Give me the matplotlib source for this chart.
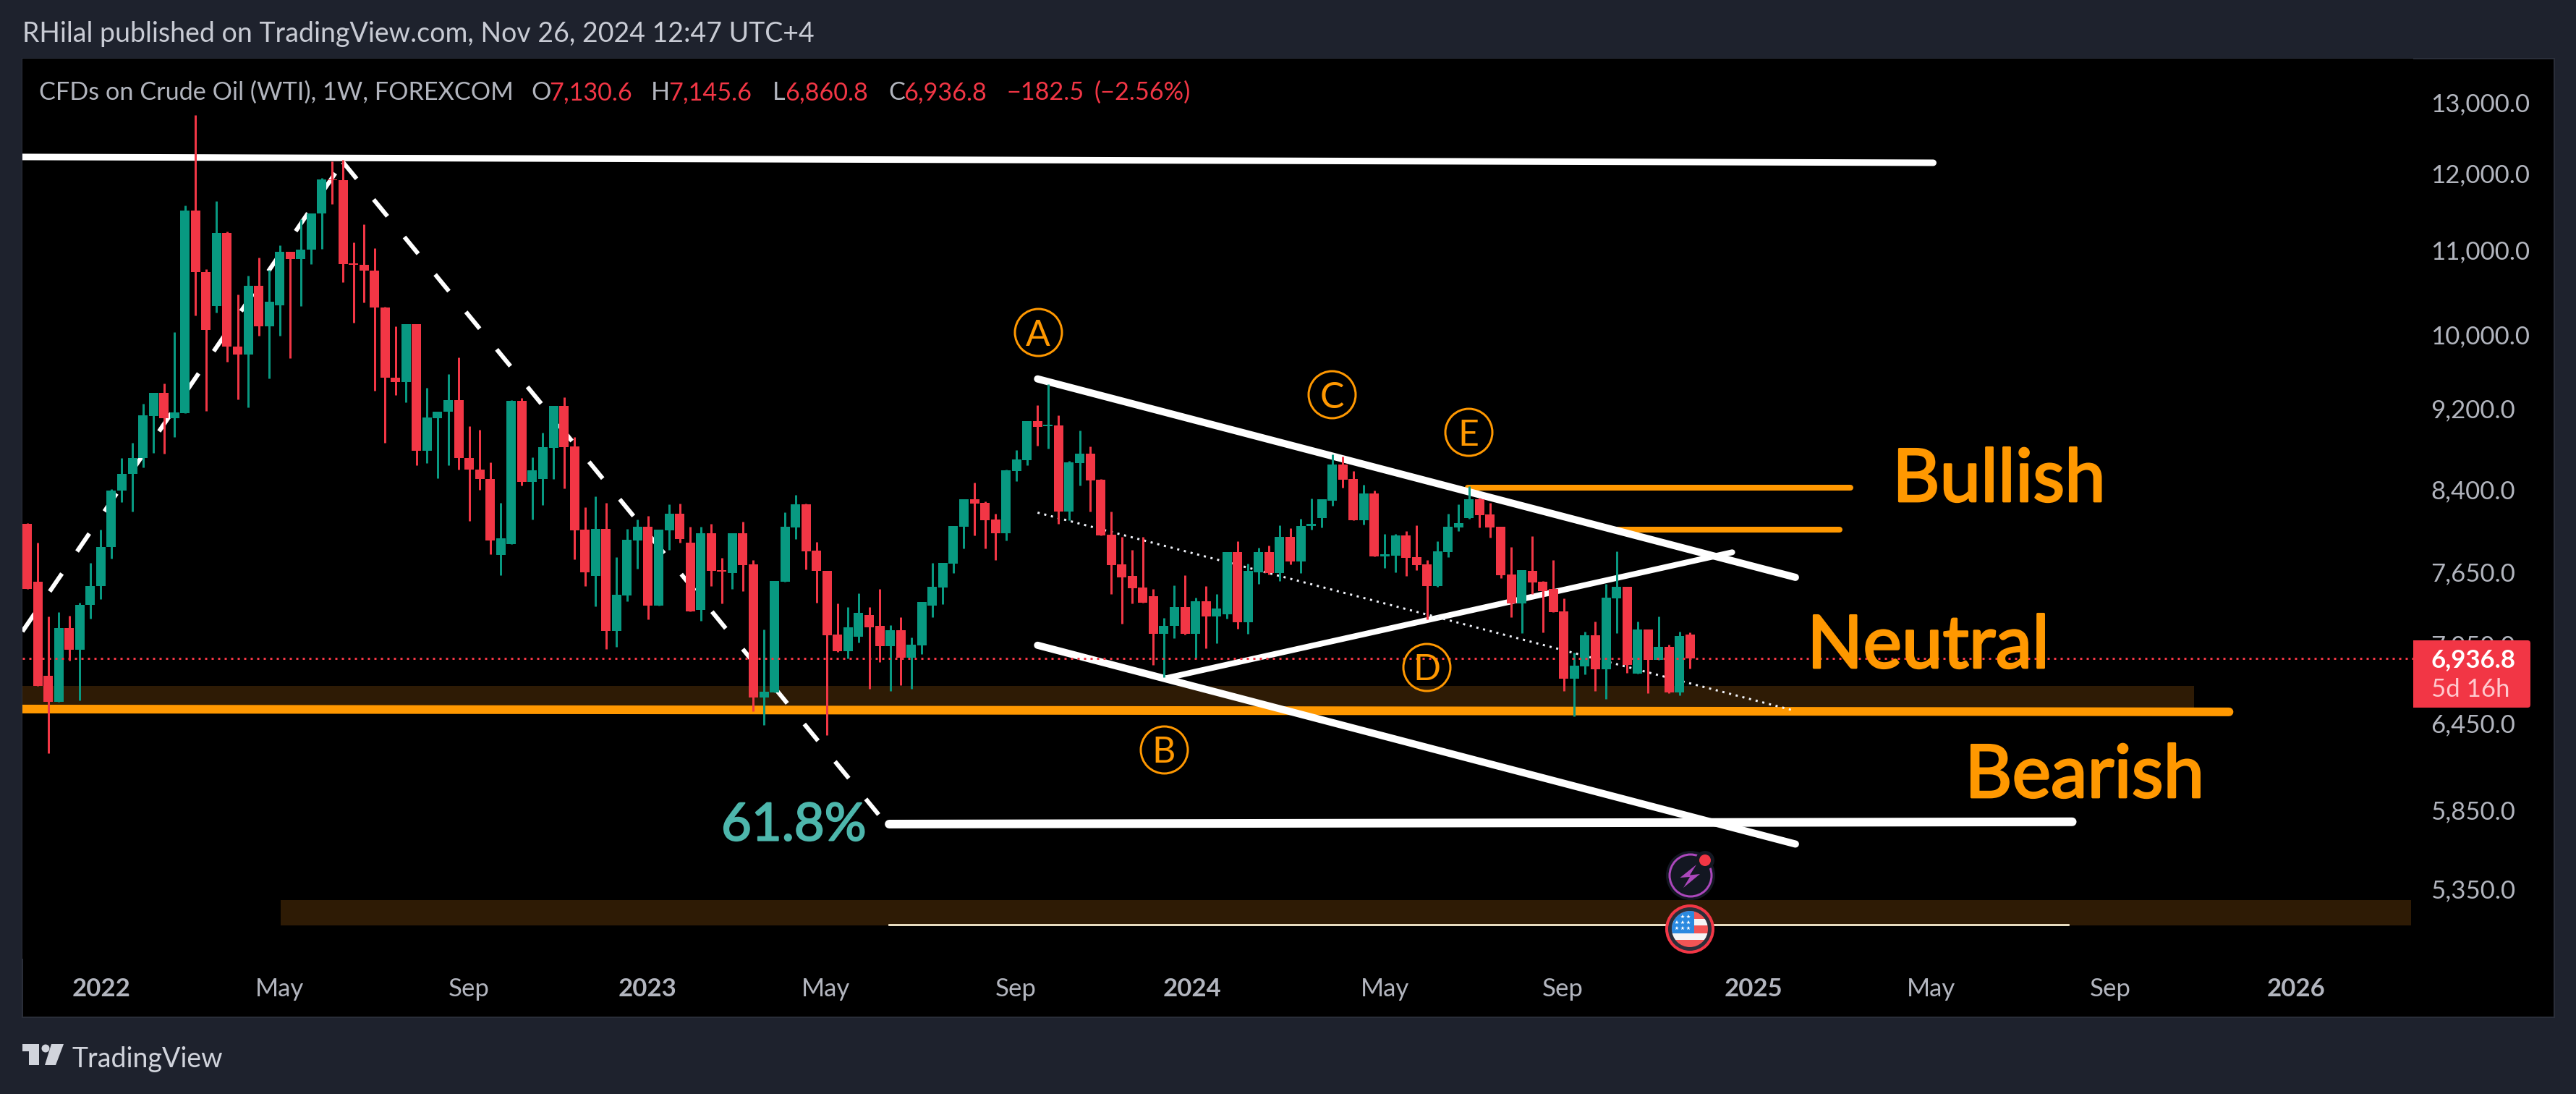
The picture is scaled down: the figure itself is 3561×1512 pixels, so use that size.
import numpy as np
import matplotlib
matplotlib.use("Agg")
import matplotlib.pyplot as plt
import matplotlib.patheffects as pe
from matplotlib.patches import Rectangle, Circle, Polygon, FancyBboxPatch
from matplotlib.ticker import NullLocator, NullFormatter

plt.rcParams['font.family'] = ['Lato', 'DejaVu Sans']
plt.rcParams['lines.scale_dashes'] = False

# --- weekly candles ---
opens = [8080,7567,6805,6606,7183,7006,7369,7528,7868,8385,8543,8700,9121,9362,9098,9155,11505,10730,10325,11216,
         9867,9776,10565,10091,10335,10977,10888,11010,11463,11917,11899,10838,10820,10748,10309,9525,9476,10117,8768,9103,
         9165,9290,8700,8587,8499,7798,7892,9281,8469,8498,8801,9229,8815,8026,7616,8031,7160,7452,7929,8051,
         7366,8018,8171,7910,7331,7994,7667,7643,7994,7717,6640,6680,7568,8046,8257,7838,7662,7131,6998,7113,
         7288,7196,7038,7164,6946,7044,7366,7519,7725,8051,8304,8270,8117,7994,8573,8682,9072,9016,9027,8191,
         8652,8744,8490,7979,7717,7616,7519,7445,7135,7196,7354,7135,7403,7276,7294,7826,7229,7650,7826,7643,
         7962,7743,8059,8132,8291,8639,8498,8112,8359,7787,7794,7974,7780,7717,7531,7826,8046,8133,8305,8164,
         8051,7629,7384,7661,7567,7505,7318,6785,6878,7123,6856,7426,7524,6822,7170,6928,7030,6678,7130.6]
highs = [8085,7906,7274,7312,7281,7388,7730,8025,8402,8700,8850,9252,9362,9466,10028,11565,12807,10770,11623,11233,
         10465,10686,10910,10758,11058,10977,11392,11463,11929,12163,12176,11100,11327,11022,10320,10096,10117,10117,9417,9170,
         9564,9746,9018,8981,8660,8272,9287,9310,8709,8954,9229,9320,8909,8232,8332,8270,7780,8031,8117,8148,
         8026,8257,8265,8051,8051,8079,7775,7994,8096,7756,7171,7573,8183,8345,8265,7915,7662,7385,7354,7470,
         7354,7505,7207,7270,7106,7396,7730,7730,8059,8304,8464,8286,8171,8589,8780,9072,9235,9458,9128,8671,
         8977,8815,8498,8191,7962,7845,7962,7505,7265,7535,7623,7433,7531,7464,7826,7922,7725,7862,7882,8064,
         8038,8125,8312,8304,8733,8717,8573,8443,8387,7986,7986,8011,8064,7756,7922,8171,8257,8428,8319,8273,
         8051,7869,7667,7966,7573,7754,7426,6985,7152,7234,7549,7831,7524,7234,7170,7276,7047,7152,7145.6]
lows = [7505,6727,6236,6606,6920,6616,7259,7419,7766,8276,8190,8605,8750,8745,8905,9155,10218,9175,10250,9695,
        9295,9208,9987,9515,9987,9736,10325,10826,11015,11583,10608,10138,10367,9387,8850,9338,9261,8628,8650,8504,
        8628,8587,8105,8393,7802,7623,7892,8435,8118,8252,8498,8408,7762,7531,7361,7016,7031,7403,7681,7254,
        7366,7845,7910,7317,7240,7531,7385,7505,7489,6540,6438,6680,7568,7942,7674,7392,6366,6991,6937,7066,
        6707,6911,6690,6734,6707,6974,7270,7380,7643,7857,7974,7857,7756,7929,8477,8630,8823,8793,8074,8109,
        8435,8191,7974,7464,7218,7385,7392,6889,6791,7101,7131,6937,7020,7059,7258,7178,7135,7549,7631,7573,
        7717,7643,8026,8046,8245,8414,8112,8071,7787,7686,7650,7616,7667,7254,7526,7780,8011,8126,8045,7953,
        7598,7270,7140,7465,7146,7312,6690,6498,6816,6690,6630,7140,6828,6822,6673,6928,6673,6657,6860.8]
closes = [7505,6727,6606,7183,7006,7373,7532,7868,8389,8548,8700,9131,9362,9098,9159,11505,10730,10049,11216,9862,
          9776,10565,10091,10378,10977,10894,11010,11463,11910,11899,10826,10820,10748,10309,9525,9476,10117,8768,9108,9170,
          9290,8700,8587,8494,7926,7946,9281,8469,8581,8809,9229,8809,8021,7650,8031,7160,7459,7934,8051,7366,
          8026,8171,7942,7317,7994,7657,7652,7994,7712,6640,6684,7573,8051,8257,7830,7657,7124,6998,7189,7306,
          7189,7038,7164,6946,7049,7396,7524,7730,8059,8304,8265,8112,7994,8581,8687,9072,9013,9033,8191,8660,
          8744,8482,7974,7712,7604,7512,7392,7135,7200,7354,7135,7403,7276,7343,7826,7229,7657,7826,7638,7962,
          7743,8059,8079,8301,8639,8490,8112,8359,7787,7806,7974,7775,7712,7531,7830,8051,8084,8305,8157,8045,
          7623,7384,7663,7561,7485,7312,6785,6883,7123,6856,7432,7524,6889,7170,6928,7030,6678,7119,6936.8]

price_ticks = [13000, 12000, 11000, 10000, 9200, 8400, 7650, 7050, 6450, 5850, 5350]
price_labels = ["13,000.0", "12,000.0", "11,000.0", "10,000.0", "9,200.0", "8,400.0", "7,650.0",
                "7,050.0", "6,450.0", "5,850.0", "5,350.0"]
date_ticks = [7.05, 24, 42, 58.9, 75.9, 93.9, 110.7, 129, 145.9, 164, 180.9, 197.9, 215.6]
date_labels = ["2022", "May", "Sep", "2023", "May", "Sep", "2024", "May", "Sep", "2025", "May", "Sep", "2026"]

# drawings, as (bar index, price) pairs
top_line_x, top_line_y = [-0.45, 181.1], [12219, 12139]
rise_dash_x, rise_dash_y = [-0.45, 30], [7153, 12149]
fall_dash_x, fall_dash_y = [30, 80.9], [12149, 5818]
upper_x, upper_y = [96, 168], [9512, 7604]
lower_x, lower_y = [96, 168], [7043, 5628]
rising_x, rising_y = [108.2, 162], [6786, 7822]
dotted_x, dotted_y = [96, 167.9], [8180, 6542]
support_x, support_y = [-0.45, 209.2], [6554, 6533]
bull1_x, bull1_y = [136.9, 173.2], [8414, 8414]
bull2_x, bull2_y = [150.9, 172.2], [8027, 8027]
fib_x, fib_y = [81.9, 194.3], [5756, 5771]
fib_thin_x, fib_thin_y = [81.9, 193.9], [5139, 5139]
zone1_x, zone1_y = [-0.45, 205.9], [6554, 6725]
zone2_x, zone2_y = [24.1, 226.5], [5136, 5284]

W, H = 3561, 1512
PX = 0.72  # one pixel in points at dpi 100
BG = "#1e222d"
RED, GREEN = "#f23645", "#089981"
ORANGE = "#ff9800"
GREY = "#b2b5be"
ZONE = "#2e1b05"


def rect(x0, y0, x1, y1):
    return [x0 / W, 1 - y1 / H, (x1 - x0) / W, (y1 - y0) / H]


fig = plt.figure(figsize=(W / 100, H / 100), dpi=100, facecolor=BG)

panel = fig.add_axes(rect(31, 81, 3531, 1406), facecolor="black")
panel.set_xticks([])
panel.set_yticks([])
for s in panel.spines.values():
    s.set_color("#2a2e39")
    s.set_linewidth(2 * PX)

ax = fig.add_axes(rect(31, 81, 3336, 1325), facecolor="black")
for s in ax.spines.values():
    s.set_visible(False)
ax.set_yscale("log")
ax.set_xlim(-0.447, 226.7)
ax.set_ylim(4945, 13653)

# zones and drawings sit under the candles
ax.fill_between(zone1_x, zone1_y[0], zone1_y[1], color=ZONE, lw=0, zorder=1)
ax.fill_between(zone2_x, zone2_y[0], zone2_y[1], color=ZONE, lw=0, zorder=1)

ax.plot(support_x, support_y, color=ORANGE, lw=12 * PX, solid_capstyle="round", zorder=2)
ax.plot(bull1_x, bull1_y, color=ORANGE, lw=8 * PX, solid_capstyle="round", zorder=2)
ax.plot(bull2_x, bull2_y, color=ORANGE, lw=8 * PX, solid_capstyle="round", zorder=2)

for xs, ys, w in [(top_line_x, top_line_y, 9), (upper_x, upper_y, 10), (lower_x, lower_y, 10),
                  (rising_x, rising_y, 8), (fib_x, fib_y, 12)]:
    ax.plot(xs, ys, color="white", lw=w * PX, solid_capstyle="round", zorder=3)
ax.plot(fib_thin_x, fib_thin_y, color="#fff3d6", lw=2.7 * PX, zorder=3)

dash = (0, (30 * PX, 37 * PX))
ax.plot(rise_dash_x, rise_dash_y, color="white", lw=6 * PX, ls=dash, dash_capstyle="butt", zorder=3)
ax.plot(fall_dash_x, fall_dash_y, color="white", lw=6 * PX, ls=dash, dash_capstyle="butt", zorder=3)
ax.plot(dotted_x, dotted_y, color="#f0f3fa", lw=3 * PX, ls=(0, (3 * PX, 6.5 * PX)), dash_capstyle="butt", zorder=3)

# candles
idx = np.arange(len(opens))
o, h, l, c = map(np.array, (opens, highs, lows, closes))
colors = [GREEN if b > a else RED for a, b in zip(o, c)]
ax.vlines(idx, l, h, colors=colors, lw=3 * PX, zorder=4)
ax.bar(idx, np.abs(c - o), bottom=np.minimum(o, c), width=13 / 14.55, color=colors, lw=0, zorder=5)

# last price line
ax.axhline(closes[-1], color=RED, lw=3 * PX, ls=(0, (3 * PX, 6 * PX)), dash_capstyle="butt", zorder=6)

ax.yaxis.tick_right()
ax.set_yticks(price_ticks, labels=price_labels)
ax.yaxis.set_minor_locator(NullLocator())
ax.yaxis.set_minor_formatter(NullFormatter())
ax.set_xticks(date_ticks, labels=date_labels)
ax.tick_params(axis="y", length=0, pad=24 * PX, labelsize=25, labelcolor=GREY)
ax.tick_params(axis="x", length=0, pad=26 * PX, labelsize=25, labelcolor=GREY)
for t in ax.get_xticklabels():
    if t.get_text().isdigit():
        t.set_fontweight("bold")

# --- overlay in image pixels for texts and icons ---
ov = fig.add_axes([0, 0, 1, 1], facecolor="none")
ov.set_xlim(0, W)
ov.set_ylim(H, 0)
ov.axis("off")

ov.text(31, 47, "RHilal published on TradingView.com, Nov 26, 2024 12:47 UTC+4", color="#c8cbd4",
        fontsize=27, va="center")

legend_parts = [(54, "CFDs on Crude Oil (WTI), 1W, FOREXCOM", GREY), (734, "O", GREY), (759, "7,130.6", RED),
                (900, "H", GREY), (924, "7,145.6", RED), (1068, "L", GREY), (1085, "6,860.8", RED),
                (1228, "C", GREY), (1249, "6,936.8", RED), (1391, "\u2212182.5", RED), (1513, "(\u22122.56%)", RED)]
for x, s, col in legend_parts:
    ov.text(x, 128, s, color=col, fontsize=24.7, va="center")

for x, y, s in [(1435, 459, "A"), (1609, 1036, "B"), (1841, 545, "C"), (1972, 922, "D"), (2030, 597, "E")]:
    ov.plot([x], [y], "o", ms=65 * PX, mfc="none", mec=ORANGE, mew=3 * PX)
    ov.text(x, y, s, color=ORANGE, fontsize=36, ha="center", va="center_baseline")

# a thin stroke thickens the big labels to the reference's weight
bold_orange = [pe.withStroke(linewidth=2, foreground=ORANGE)]
for x, y, s in [(2616, 656, "Bullish"), (2498, 886, "Neutral"), (2716, 1065, "Bearish")]:
    ov.text(x, y, s, color=ORANGE, fontsize=73, va="center_baseline", path_effects=bold_orange)
ov.text(997, 1135, "61.8%", color="#4db6ac", fontsize=52, va="center_baseline",
        path_effects=[pe.withStroke(linewidth=1.5, foreground="#4db6ac")])

# last price badge
ov.add_patch(FancyBboxPatch((3340, 889), 154, 85, boxstyle="round,pad=4", fc=RED, ec="none"))
ov.add_patch(Rectangle((3336, 885), 20, 93, fc=RED, ec="none"))
ov.text(3360, 909, "6,936.8", color="white", fontsize=25, va="center_baseline", fontweight="bold")
ov.text(3361, 950, "5d 16h", color="#ffc9ce", fontsize=25, va="center_baseline")

# earnings style icon
ov.add_patch(Circle((2337, 1210), 34, fc="#131722", ec="none"))
ov.add_patch(Circle((2337, 1210), 29, fc="none", ec="#ab47bc", lw=3 * PX))
ov.add_patch(Polygon([(2345, 1195), (2322.5, 1213), (2336, 1212), (2327, 1227), (2350, 1208), (2336, 1209.5)],
                     fc="#ab47bc", ec="none"))
ov.add_patch(Circle((2357, 1189), 13, fc="#131722", ec="none"))
ov.add_patch(Circle((2357, 1189), 8, fc=RED, ec="none"))

# flag icon
ov.add_patch(Circle((2336, 1284), 32, fc="#2a2e39", ec=RED, lw=4 * PX))
flag_clip = Circle((2336, 1284), 25, transform=ov.transData)
for y0, y1, col in [(1258, 1270, "#f25555"), (1270, 1278.5, "#f5f5f5"), (1278.5, 1290, "#f25555"),
                    (1290, 1299, "#f5f5f5"), (1299, 1310, "#f25555")]:
    r = ov.add_patch(Rectangle((2310, y0), 52, y1 - y0, fc=col, ec="none"))
    r.set_clip_path(flag_clip)
r = ov.add_patch(Rectangle((2310, 1258), 31.6, 32, fc="#2a8ae0", ec="none"))
r.set_clip_path(flag_clip)
ov.plot([2326, 2334, 2318, 2326, 2334, 2318, 2326, 2334], [1267, 1267, 1275, 1275, 1275, 1283, 1283, 1283],
        "*", color="white", ms=6 * PX, mew=0)

# TradingView logo
LOGO = "#d1d4dc"
ov.add_patch(Polygon([(31, 1443), (54, 1443), (54, 1472), (40, 1472), (40, 1453), (31, 1453)], fc=LOGO, ec="none"))
ov.add_patch(Circle((63, 1449), 5.5, fc=LOGO, ec="none"))
ov.add_patch(Polygon([(71, 1443), (88, 1443), (77, 1472), (62, 1472)], fc=LOGO, ec="none"))
ov.text(99, 1460, "TradingView", color=LOGO, fontsize=27, va="center_baseline")

fig.savefig("out.png", dpi=100, facecolor=BG)
